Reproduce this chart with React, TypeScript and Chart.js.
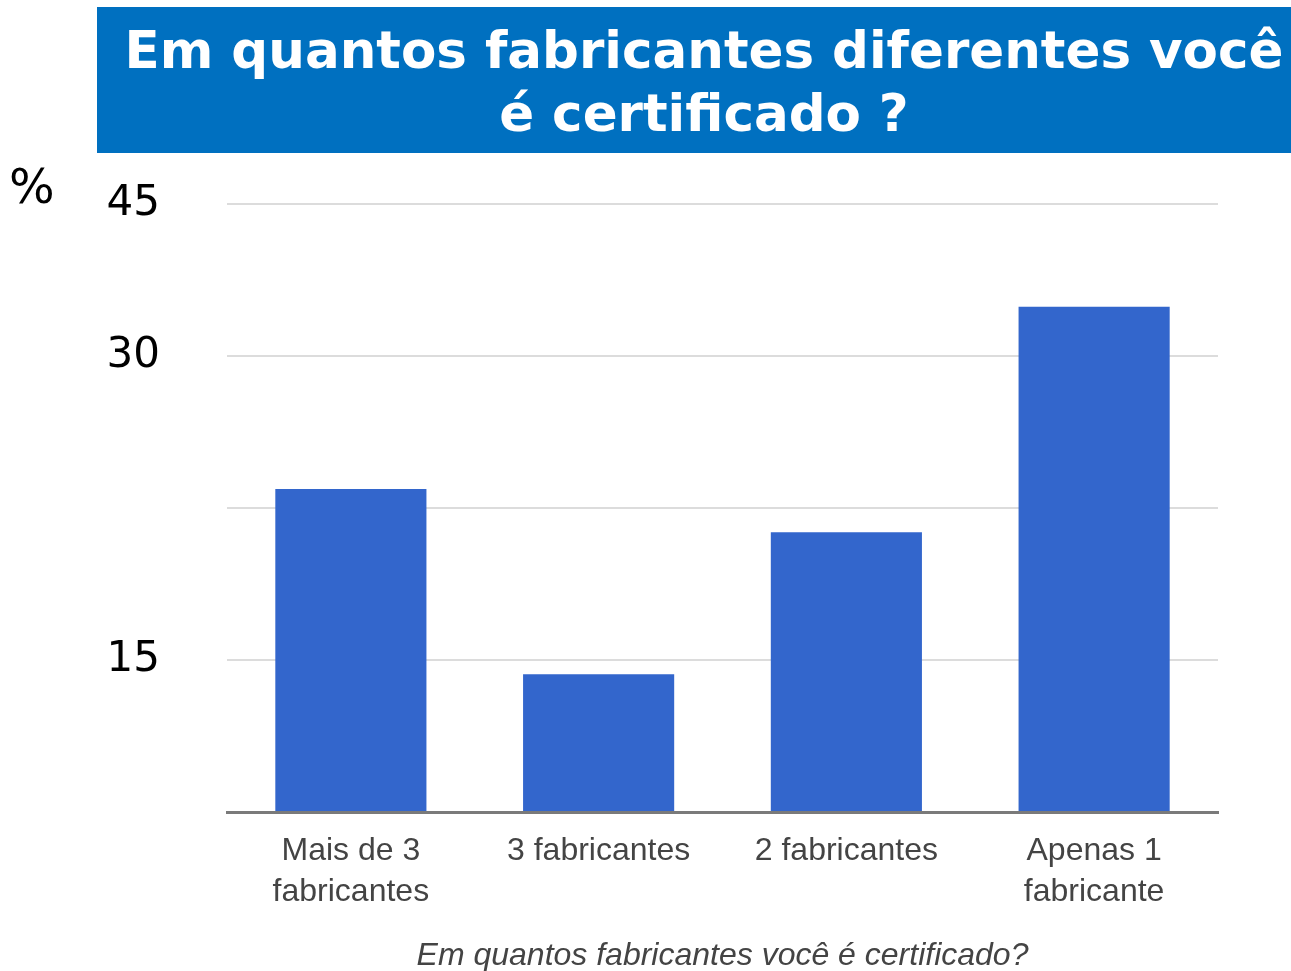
import React, { useEffect, useRef } from "react";
import { Chart, registerables } from "chart.js";

Chart.register(...registerables);

const categories: (string | string[])[] = [
  ["Mais de 3", "fabricantes"],
  "3 fabricantes",
  "2 fabricantes",
  ["Apenas 1", "fabricante"],
];
const values = [23.9, 10.2, 20.7, 37.4];
const yTickLabels = ["", "15", "", "30", "45"];
const titleLines = ["Em quantos fabricantes diferentes você", "é certificado ?"];
const xTitle = "Em quantos fabricantes você é certificado?";
const unitLabel = "%";

const bannerPlugin = {
  id: "banner",
  beforeDraw(chart: any) {
    const ctx = chart.ctx as CanvasRenderingContext2D;
    ctx.save();
    ctx.fillStyle = "#0070C0";
    ctx.fillRect(97, 7, 1194, 146);
    ctx.fillStyle = "#ffffff";
    ctx.font = 'bold 51.5px "DejaVu Sans"';
    ctx.textAlign = "center";
    ctx.textBaseline = "alphabetic";
    titleLines.forEach((l, i) => ctx.fillText(l, 704, 68 + i * 63));
    ctx.fillStyle = "#000000";
    ctx.font = '48px "DejaVu Sans"';
    ctx.textAlign = "left";
    ctx.textBaseline = "middle";
    ctx.fillText(unitLabel, 9, 191);
    ctx.restore();
  },
};

export default function App() {
  const ref = useRef<HTMLCanvasElement | null>(null);
  useEffect(() => {
    if (!ref.current) return;
    const chart = new Chart(ref.current, {
      type: "bar",
      data: {
        labels: categories,
        datasets: [
          {
            data: values,
            backgroundColor: "#3366CC",
            borderWidth: 0,
            barPercentage: 0.61,
            categoryPercentage: 1,
          },
        ],
      },
      options: {
        responsive: false,
        animation: false,
        devicePixelRatio: 1,
        layout: { padding: { top: 204, right: 73, left: 0, bottom: 0 } },
        plugins: {
          legend: { display: false },
          tooltip: { enabled: false },
          title: { display: false },
        },
        scales: {
          x: {
            grid: { display: false, drawTicks: false },
            border: { display: true, color: "#7a7a7a", width: 3 },
            ticks: {
              color: "#444444",
              padding: 19,
              maxRotation: 0,
              autoSkip: false,
              font: { family: '"Liberation Sans", Arial, sans-serif', size: 32, lineHeight: 1.28 },
            },
            title: {
              display: true,
              text: xTitle,
              color: "#444444",
              padding: 0,
              font: { family: '"Liberation Sans", Arial, sans-serif', size: 32, style: "italic", lineHeight: 0.95 },
            },
            afterFit(scale: any) {
              scale.height = 159;
            },
          },
          y: {
            min: 0,
            max: 45,
            grid: { color: "#dcdcdc", lineWidth: 2, drawTicks: false },
            border: { display: false },
            ticks: {
              stepSize: 11.25,
              padding: 67,
              color: "#000000",
              font: { family: '"DejaVu Sans", Verdana, sans-serif', size: 42 },
              callback: (_v: any, i: number) => yTickLabels[i] ?? "",
            },
            afterFit(scale: any) {
              scale.width = 227;
            },
          },
        },
      },
      plugins: [bannerPlugin],
    });
    return () => chart.destroy();
  }, []);
  return (
    <div style={{ position: "absolute", left: 0, top: 0, width: 1291, height: 971, background: "#fff" }}>
      <canvas ref={ref} width={1291} height={971} />
    </div>
  );
}
